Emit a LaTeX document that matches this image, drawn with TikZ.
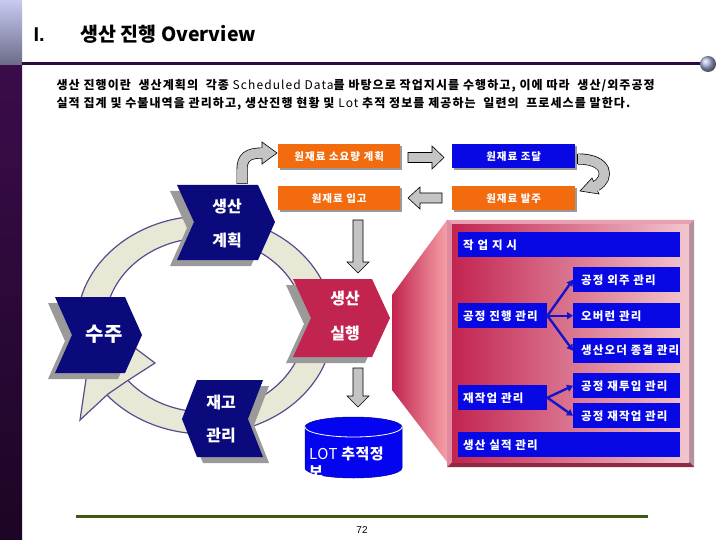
\documentclass[tikz,border=0pt]{standalone}
\usepackage{fontspec}
\setmainfont{Noto Sans CJK KR}
\newfontfamily\arial{Liberation Sans}
\usetikzlibrary{arrows.meta,shadows,calc}
\definecolor{orng}{HTML}{F26B0F}
\definecolor{bbox}{HTML}{0808E4}
\definecolor{navy}{HTML}{0A0A7C}
\definecolor{crim}{HTML}{C22450}
\definecolor{garr}{HTML}{C4C4C4}
\definecolor{lav}{HTML}{C8CAF2}
\definecolor{grayv}{HTML}{6A6A86}
\definecolor{purp}{HTML}{3A0C4A}
\definecolor{purpd}{HTML}{1C0524}
\definecolor{hline}{HTML}{2C0C3C}
\definecolor{ringc}{HTML}{E8E8D6}
\definecolor{ringl}{HTML}{5A4A8C}
\definecolor{shadc}{HTML}{9A9A9A}
\definecolor{cylc}{HTML}{0404F0}
\definecolor{arrb}{HTML}{1414C8}
\definecolor{gline}{HTML}{3C5A14}
\definecolor{pframe}{HTML}{C86A84}
\definecolor{ptop}{HTML}{E8A0B2}
\definecolor{pright}{HTML}{B4909C}
\definecolor{pbot}{HTML}{8C2C44}
\definecolor{pleft}{HTML}{E08AA0}
\definecolor{pside}{HTML}{F4A0A6}
\definecolor{pface}{HTML}{F2C6CE}
\definecolor{ballc}{HTML}{A8B0D8}
\begin{document}
\begin{tikzpicture}[x=1pt,y=-1pt,
  obox/.style={anchor=north west, minimum height=24pt, inner sep=0pt, text=white,
    font=\bfseries\fontsize{10.5}{11}\selectfont\addfontfeatures{LetterSpace=10},
    drop shadow={shadow xshift=2pt, shadow yshift=-2pt, fill=shadc, opacity=1}},
  ibox/.style={anchor=north west, fill=bbox, minimum height=25pt, inner xsep=5pt, inner ysep=0pt,
    text=white, font=\bfseries\fontsize{11.5}{12}\selectfont\addfontfeatures{LetterSpace=10}},
  chevtext/.style={text=white, font=\bfseries\fontsize{16}{18}\selectfont},
  partext/.style={anchor=west, font=\bfseries\fontsize{12}{14}\selectfont\addfontfeatures{LetterSpace=9}},
  garrow/.style={fill=garr, draw=black, line width=0.6pt},
  barrow/.style={draw=arrb, line width=2.4pt, -{Triangle[length=6pt,width=7pt]}},
]
\useasboundingbox (0,0) rectangle (720,540);
\fill[white] (0,0) rectangle (720,540);
% left bar
\shade[top color=lav, bottom color=grayv] (0,0) rectangle (22,66);
\shade[top color=purp, bottom color=purpd] (0,66) rectangle (22,540);
% header
\node[anchor=west, font=\arial\bfseries\fontsize{20}{22}\selectfont] (num) at (30,35) {I.};
\node[anchor=west, font=\bfseries\fontsize{19.5}{22}\selectfont] (title) at (77,34) {생산 진행 Overview};
\draw[hline, line width=3pt] (22,64) -- (701,64);
\shade[ball color=ballc] (708,64) circle[radius=8pt];
\node[partext] (p1) at (53,86)
  {생산 진행이란 \ 생산계획의 \ 각종 {\mdseries Scheduled Data}를 바탕으로 작업지시를 수행하고, 이에 따라 \ 생산/외주공정};
\node[partext] (p2) at (53,104)
  {실적 집계 및 수불내역을 관리하고, 생산진행 현황 및 {\mdseries Lot} 추적 정보를 제공하는 \ 일련의 \ 프로세스를 말한다.};
% ring
\fill[ringc, even odd rule] (205,325) ellipse[x radius=128pt, y radius=109pt]
  (205,325) ellipse[x radius=100pt, y radius=87pt];
\draw[ringl, line width=1.2pt] (205,325) ellipse[x radius=128pt, y radius=109pt];
\draw[ringl, line width=1.2pt] (205,325) ellipse[x radius=100pt, y radius=87pt];
\filldraw[fill=ringc, draw=ringl, line width=1.2pt] (155,363) -- (95,318) -- (80,420) -- (108,394) -- (127,381) -- cycle;
% pink panel
\shade[left color=crim, right color=pside] (447,220) -- (392,295) -- (392,390) -- (447,462) -- cycle;
\fill[pframe] (447,220) rectangle (694,467);
\fill[ptop] (447,220) -- (694,220) -- (689,225) -- (452,225) -- cycle;
\fill[pright] (694,220) -- (694,467) -- (689,462) -- (689,225) -- cycle;
\fill[pbot] (447,467) -- (694,467) -- (689,462) -- (452,462) -- cycle;
\fill[pleft] (447,220) -- (452,225) -- (452,462) -- (447,467) -- cycle;
\shade[left color=crim, right color=pface] (452,225) rectangle (689,462);
% chevron shadows
\fill[shadc, shift={(-7,6)}] (177,185) -- (258,185) -- (275,222) -- (258,260) -- (177,260) -- (194,222) -- cycle;
\fill[shadc, shift={(-7,6)}] (55,297) -- (125,297) -- (142,335) -- (125,373) -- (55,373) -- (72,335) -- cycle;
\fill[shadc, shift={(-7,6)}] (293,279) -- (372,279) -- (390,318) -- (372,357) -- (293,357) -- (311,318) -- cycle;
\fill[shadc, shift={(6,6)}] (197,380) -- (263,380) -- (248,419) -- (263,457) -- (197,457) -- (182,419) -- cycle;
% chevrons
\fill[navy] (177,185) -- (258,185) -- (275,222) -- (258,260) -- (177,260) -- (194,222) -- cycle;
\fill[navy] (55,297) -- (125,297) -- (142,335) -- (125,373) -- (55,373) -- (72,335) -- cycle;
\fill[crim] (293,279) -- (372,279) -- (390,318) -- (372,357) -- (293,357) -- (311,318) -- cycle;
\fill[navy] (197,380) -- (263,380) -- (248,419) -- (263,457) -- (197,457) -- (182,419) -- cycle;
\node[chevtext] (plan1) at (227,207) {생산};
\node[chevtext] (plan2) at (227,240) {계획};
\node[chevtext, font=\bfseries\fontsize{20}{22}\selectfont] (order) at (104,334) {수주};
\node[chevtext] (exec1) at (345,299) {생산};
\node[chevtext] (exec2) at (345,334) {실행};
\node[chevtext] (stock1) at (221,402) {재고};
\node[chevtext] (stock2) at (221,436) {관리};
% orange/blue top boxes
\node[obox, fill=orng, minimum width=122pt] (so) at (278,144) {원재료 소요량 계획};
\node[obox, fill=bbox, minimum width=123pt] (jd) at (452,144) {원재료 조달};
\node[obox, fill=orng, minimum width=122pt] (ig) at (278,186) {원재료 입고};
\node[obox, fill=orng, minimum width=123pt] (bj) at (452,186) {원재료 발주};
% gray block arrows
\draw[garrow] (408,152.5) -- (432,152.5) -- (432,146) -- (444,157.5) -- (432,169) -- (432,162.5) -- (408,162.5) -- cycle;
\draw[garrow] (442,193) -- (420,193) -- (420,187) -- (408,198) -- (420,209) -- (420,203) -- (442,203) -- cycle;
\draw[garrow] (353,220) -- (363,220) -- (363,262) -- (369,262) -- (358,273) -- (347,262) -- (353,262) -- cycle;
\draw[garrow] (353,368) -- (363,368) -- (363,396) -- (369,396) -- (358,407) -- (347,396) -- (353,396) -- cycle;
% curved arrow top-left
\draw[black, line width=11pt] (242,184) -- (242,170) .. controls (242,157) and (248,153) .. (263,153);
\draw[garrow] (262,142) -- (277,153) -- (262,164) -- cycle;
\draw[garr, line width=9.6pt] (242,183.5) -- (242,170) .. controls (242,157) and (248,153) .. (263,153) -- (265,153);
% curved arrow top-right
\draw[black, line width=11pt] (578,159) .. controls (608,159) and (610,178) .. (596,186);
\draw[garrow] (599,194) -- (580,191) -- (592,178) -- cycle;
\draw[garr, line width=9.6pt] (577.5,159) .. controls (608,159) and (610,178) .. (596,186) -- (593.5,187.5);
\draw[black, line width=0.6pt] (577.5,153.7) -- (577.5,164.3);
% panel boxes
\node[ibox, minimum width=222pt, text width=212pt] (ws) at (458,232) {작 업 지 시};
\node[ibox, inner xsep=8pt] (oj) at (573,267) {\makebox[91pt][l]{공정 외주 관리}};
\node[ibox] (jh) at (458,303) {\makebox[79pt][l]{공정 진행 관리}};
\node[ibox, inner xsep=8pt] (ob) at (573,303) {\makebox[91pt][l]{오버런 관리}};
\node[ibox, inner xsep=8pt] (jg) at (573,338) {\makebox[91pt][l]{생산오더 종결 관리}};
\node[ibox] (jj) at (458,385) {\makebox[79pt][l]{재작업 관리}};
\node[ibox, inner xsep=8pt] (jt) at (573,373) {\makebox[91pt][l]{공정 재투입 관리}};
\node[ibox, inner xsep=8pt] (jw) at (573,403) {\makebox[91pt][l]{공정 재작업 관리}};
\node[ibox, minimum width=222pt, text width=212pt] (sj) at (458,432) {생산 실적 관리};
\draw[barrow] (jh.east) -- (oj.west);
\draw[barrow] (jh.east) -- (ob.west);
\draw[barrow] (jh.east) -- (jg.west);
\draw[barrow] (jj.east) -- (jt.west);
\draw[barrow] (jj.east) -- (jw.west);
% LOT cylinder
\path[fill=cylc, draw=blue!60!black, line width=0.5pt] (305,427) -- (305,468)
  arc[start angle=180, end angle=360, x radius=48.5pt, y radius=10pt] -- (402,427)
  arc[start angle=0, end angle=180, x radius=48.5pt, y radius=10pt] -- cycle;
\draw[white, line width=0.8pt] (305,427) arc[start angle=180, end angle=360, x radius=48.5pt, y radius=10pt];
\node[anchor=north west, align=left, text=white, inner sep=0pt,
  font=\bfseries\fontsize{15}{18}\selectfont\addfontfeatures{LetterSpace=3}] (lot) at (309,447) {{\mdseries LOT} 추적정\\보};
% footer
\draw[gline, line width=3pt] (76,516) -- (648,516);
\node[font=\arial\fontsize{10}{12}\selectfont] (page) at (362,530) {72};
\end{tikzpicture}
\end{document}
